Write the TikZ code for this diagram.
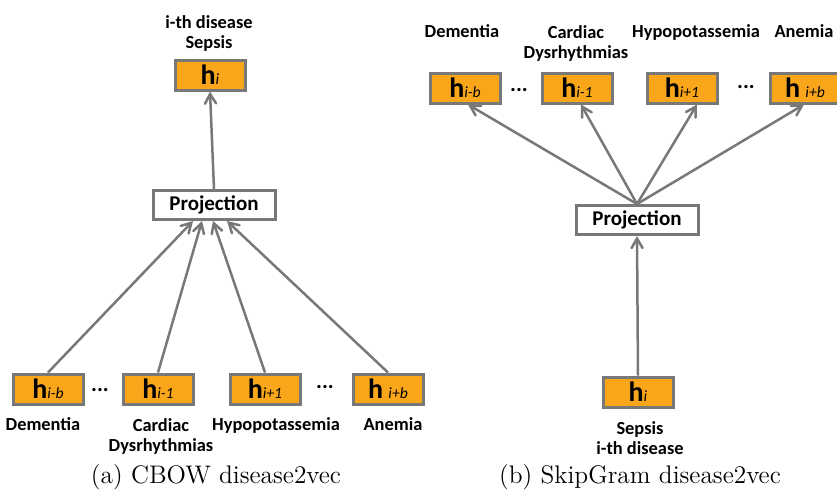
\documentclass[tikz,border=0pt]{standalone}
\usepackage{fontspec}
\newfontfamily\lblfont{Carlito}
\usetikzlibrary{arrows}
\definecolor{boxorange}{RGB}{250,166,26}
\definecolor{linegray}{RGB}{120,120,120}
\tikzset{
  hbox/.style={draw=linegray, line width=1.5pt, fill=boxorange, minimum width=35pt, minimum height=15pt, inner sep=0pt},
  projbox/.style={draw=linegray, line width=1.5pt, fill=white, minimum width=61pt, minimum height=14.5pt, inner sep=0pt, font=\lblfont\fontsize{10.5}{12}\selectfont\bfseries},
  arr/.style={->, >=angle 60, draw=linegray, line width=1.25pt},
  dlabel/.style={font=\lblfont\fontsize{9.2}{10}\selectfont\bfseries, align=center, inner sep=0pt},
  capt/.style={font=\fontsize{12.7}{15}\selectfont, inner sep=0pt}
}
\newcommand{\hvec}[1]{{\lblfont\fontsize{14}{14}\selectfont\bfseries h}{\lblfont\fontsize{7.8}{8}\selectfont\itshape #1}}
\begin{document}
\begin{tikzpicture}[x=0.5pt,y=-0.5pt]
    \useasboundingbox (0,0) rectangle (837,494);
    % (a) CBOW
    \node[dlabel] (topA) at (209,33) {i-th disease\\Sepsis};
    \node[hbox] (hiA) at (210,75) {\hvec{i}};
    \node[projbox] (projA) at (214,205) {Projection};
    \node[hbox] (hA1) at (48,389) {\hvec{i-b}};
    \node[hbox] (hA2) at (158,389) {\hvec{i-1}};
    \node[hbox] (hA3) at (265,389) {\hvec{i+1}};
    \node[hbox] (hA4) at (388,389) {\hvec{\,\,i+b}};
    \node[dlabel, font=\lblfont\fontsize{11}{11}\selectfont\bfseries] (dotA1) at (100,390) {...};
    \node[dlabel, font=\lblfont\fontsize{11}{11}\selectfont\bfseries] (dotA2) at (325,387) {...};
    \node[dlabel, anchor=base] (nA1) at (43,430) {Dementia};
    \node[dlabel] (nA2) at (161,436) {Cardiac\\Dysrhythmias};
    \node[dlabel, anchor=base] (nA3) at (276,430) {Hypopotassemia};
    \node[dlabel, anchor=base] (nA4) at (393,430) {Anemia};
    \draw[arr] (projA.north) -- (hiA.south);
    \draw[arr] (hA1.north) -- ([xshift=-10.5pt]projA.south);
    \draw[arr] (hA2.north) -- ([xshift=-6pt]projA.south);
    \draw[arr] (hA3.north) -- ([xshift=-0.5pt]projA.south);
    \draw[arr] (hA4.north) -- ([xshift=6.5pt]projA.south);
    \node[capt] (captA) at (216,477) {(a) CBOW disease2vec};
    % (b) SkipGram
    \node[dlabel, anchor=base] (nB1) at (462,37) {Dementia};
    \node[dlabel] (nB2) at (576,43) {Cardiac\\Dysrhythmias};
    \node[dlabel, anchor=base] (nB3) at (696,37) {Hypopotassemia};
    \node[dlabel, anchor=base] (nB4) at (804,37) {Anemia};
    \node[hbox] (hB1) at (465,88) {\hvec{i-b}};
    \node[hbox] (hB2) at (577,88) {\hvec{i-1}};
    \node[hbox] (hB3) at (682,88) {\hvec{i+1}};
    \node[hbox] (hB4) at (805,88) {\hvec{\,\,i+b}};
    \node[dlabel, font=\lblfont\fontsize{11}{11}\selectfont\bfseries] (dotB1) at (519,90) {...};
    \node[dlabel, font=\lblfont\fontsize{11}{11}\selectfont\bfseries] (dotB2) at (746,87) {...};
    \node[projbox] (projB) at (637,220) {Projection};
    \node[hbox] (hiB) at (638,392) {\hvec{i}};
    \node[dlabel] (botB) at (640,438) {Sepsis\\i-th disease};
    \draw[arr] (hiB.north) -- (projB.south);
    \draw[arr] (projB.north) -- ([xshift=1.5pt]hB1.south);
    \draw[arr] (projB.north) -- ([xshift=2pt]hB2.south);
    \draw[arr] (projB.north) -- ([xshift=7.5pt]hB3.south);
    \draw[arr] (projB.north) -- ([xshift=-0.5pt]hB4.south);
    \node[capt] (captB) at (640,477) {(b) SkipGram disease2vec};
\end{tikzpicture}
\end{document}
